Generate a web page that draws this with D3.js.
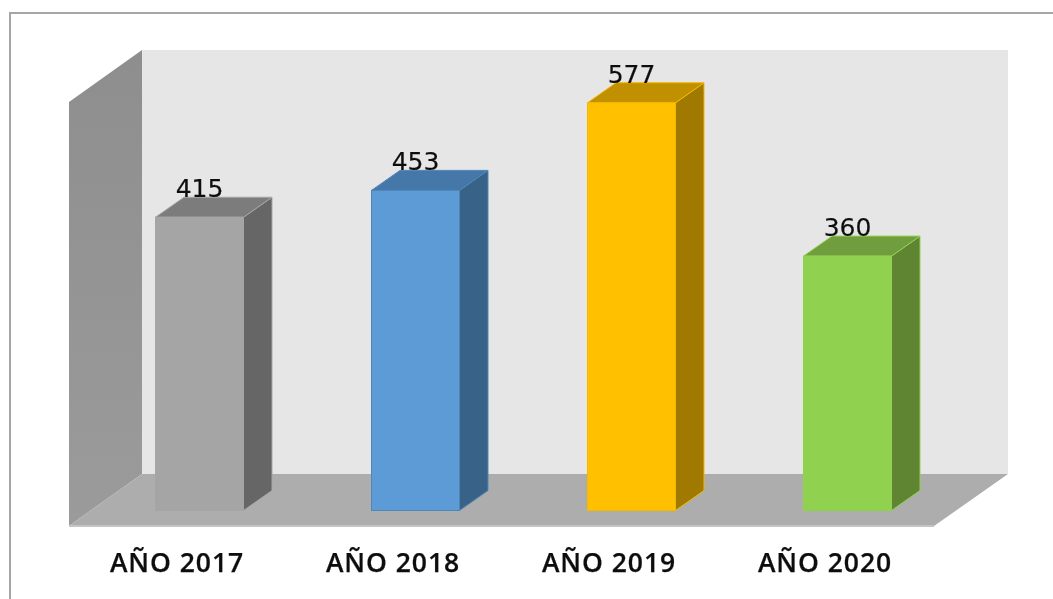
<!DOCTYPE html>
<html>
<head>
<meta charset="utf-8">
<script src="https://cdn.jsdelivr.net/npm/d3@7"></script>
<style>
  html, body { margin: 0; padding: 0; background: #fff; overflow: hidden; }
  svg { display: block; }
  .tick text { font-family: "Open Sans", sans-serif; font-weight: 600; font-size: 26.5px; letter-spacing: 0.95px; fill: #111; stroke: #111; stroke-width: 0.25px; }
  .val { font-family: "DejaVu Sans", sans-serif; font-size: 25px; fill: #111; stroke: #111; stroke-width: 0.2px; }
</style>
</head>
<body>
<script>
const categories = ['AÑO 2017', 'AÑO 2018', 'AÑO 2019', 'AÑO 2020'];
const values = [415, 453, 577, 360];

const frontColors = ['#a5a5a5', '#5b9bd5', '#ffc000', '#90d150'];
const sideColors = ['#666666', '#386287', '#a07a00', '#5e8430'];
const topColors = ['#7c7c7c', '#4477a8', '#c09000', '#6f9d3c'];
const edgeColors = ['#a5a5a5', '#4f86b8', '#f5b800', '#90d150'];

const width = 1053;
const height = 599;
const baseY = 510.5;
const depthX = 28.5;
const depthY = 20;
const wall = { left: 69, right: 934, front: 526, dx: 73, dy: 52 };

const x = d3.scaleBand().domain(categories).range([91.5, 955.5]).paddingInner(0.5926).paddingOuter(0.2963);
const y = d3.scaleLinear().domain([0, 600]).range([baseY, baseY - 424]);
const wallY = d3.scaleLinear().domain([0, 600]).range([wall.front, wall.front - 424]);

const svg = d3.select('body').append('svg').attr('width', width).attr('height', height);

const defs = svg.append('defs');
defs.append('filter').attr('id', 'soft').append('feGaussianBlur').attr('stdDeviation', 0.7);
defs.append('filter').attr('id', 'softText').append('feGaussianBlur').attr('stdDeviation', 0.45);
const grad = defs.append('linearGradient').attr('id', 'sideWall')
  .attr('x1', 0).attr('y1', 0).attr('x2', 0).attr('y2', 1);
grad.append('stop').attr('offset', '0%').attr('stop-color', '#8e8e8e');
grad.append('stop').attr('offset', '100%').attr('stop-color', '#9b9b9b');

const g = svg.append('g').attr('filter', 'url(#soft)');
const labels = svg.append('g').attr('filter', 'url(#softText)');

// outer chart frame, runs off the right and bottom of the picture
g.append('rect').attr('x', 10).attr('y', 13).attr('width', width + 20).attr('height', height + 20)
  .attr('fill', '#fff').attr('stroke', '#a6a6a6').attr('stroke-width', 2);

const line = pts => 'M' + pts.map(p => p.join(',')).join('L') + 'Z';

// back wall
g.append('path')
  .attr('d', line([
    [wall.left + wall.dx, wallY(600) - wall.dy], [wall.right + wall.dx + 1, wallY(600) - wall.dy],
    [wall.right + wall.dx + 1, wallY(0) - wall.dy], [wall.left + wall.dx, wallY(0) - wall.dy]
  ]))
  .attr('fill', '#e6e6e6');

// side wall
g.append('path')
  .attr('d', line([
    [wall.left, wallY(600)], [wall.left + wall.dx, wallY(600) - wall.dy],
    [wall.left + wall.dx, wallY(0) - wall.dy], [wall.left, wallY(0)]
  ]))
  .attr('fill', 'url(#sideWall)');

// floor
g.append('path')
  .attr('d', line([
    [wall.left, wallY(0)], [wall.left + wall.dx, wallY(0) - wall.dy],
    [wall.right + wall.dx + 1, wallY(0) - wall.dy], [wall.right, wallY(0)]
  ]))
  .attr('fill', '#adadad');
g.append('line')
  .attr('x1', wall.left).attr('x2', wall.right).attr('y1', wallY(0)).attr('y2', wallY(0))
  .attr('stroke', '#c4c4c4').attr('stroke-width', 2);

const bars = g.selectAll('.bar').data(categories).join('g').attr('class', 'bar');

// side face
bars.append('path')
  .attr('d', (d, i) => {
    const r = x(d) + x.bandwidth();
    return line([[r, y(values[i])], [r + depthX, y(values[i]) - depthY], [r + depthX, baseY - depthY], [r, baseY]]);
  })
  .attr('fill', (d, i) => sideColors[i])
  .attr('stroke', (d, i) => edgeColors[i]);

// top face
bars.append('path')
  .attr('d', (d, i) => {
    const l = x(d), r = l + x.bandwidth(), t = y(values[i]);
    return line([[l, t], [l + depthX, t - depthY], [r + depthX, t - depthY], [r, t]]);
  })
  .attr('fill', (d, i) => topColors[i])
  .attr('stroke', (d, i) => edgeColors[i]);

// front face
bars.append('rect')
  .attr('x', d => x(d))
  .attr('y', (d, i) => y(values[i]))
  .attr('width', x.bandwidth())
  .attr('height', (d, i) => baseY - y(values[i]))
  .attr('fill', (d, i) => frontColors[i])
  .attr('stroke', (d, i) => edgeColors[i]);

// value labels
labels.selectAll('.val').data(categories).join('text')
  .attr('class', 'val')
  .attr('x', d => x(d) + x.bandwidth() / 2)
  .attr('y', (d, i) => y(values[i]) - 20)
  .attr('text-anchor', 'middle')
  .text((d, i) => values[i]);

// category axis
const axis = labels.append('g')
  .attr('transform', 'translate(-22.5,' + wall.front + ')')
  .call(d3.axisBottom(x).tickSize(0).tickPadding(27));
axis.select('.domain').remove();
</script>
</body>
</html>
